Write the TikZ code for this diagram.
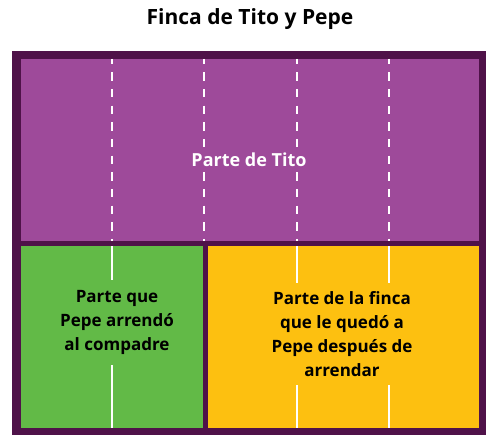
\documentclass[tikz,border=0pt]{standalone}
\usepackage{fontspec}
\setmainfont{Open Sans}
\usetikzlibrary{positioning}
\definecolor{frame}{HTML}{4F1249}
\definecolor{tito}{HTML}{9E4A9A}
\definecolor{compadre}{HTML}{62BA47}
\definecolor{pepe}{HTML}{FDC010}
\tikzset{
  plotlabel/.style={font=\fontsize{17}{24}\selectfont\bfseries,
                    align=center,inner sep=0pt},
  furrow/.style={draw=white,line width=2pt},
  dashfurrow/.style={furrow,dash pattern=on 8.33pt off 8.33pt,dash phase=3.33pt}
}
\begin{document}
\begin{tikzpicture}[x=1pt,y=-1pt]
  \useasboundingbox (0,0) rectangle (486,435);
  \node[font=\fontsize{21}{24}\selectfont\bfseries] (title) at (250,19) {Finca de Tito y Pepe};
  % terreno
  \fill[frame] (12,51) rectangle (486,435);
  \fill[tito] (21,59) rectangle (479,241);
  \fill[compadre] (21,246) rectangle (203,428);
  \fill[pepe] (208,246) rectangle (479,428);
  % surcos
  \foreach \x in {112,204,297,389}
    \draw[dashfurrow] (\x,59) -- (\x,241);
  \foreach \x in {112,297,389}
    \draw[furrow] (\x,246) -- (\x,428);
  % rotulos
  \node[plotlabel,font=\fontsize{18}{24}\selectfont\bfseries,fill=tito,text=white,
        minimum height=25pt] (partetito) at (249,159.5) {Parte de Tito};
  \node[plotlabel,fill=compadre,minimum height=85pt] (partecompadre) at (117,322.5)
    {Parte que\\Pepe arrendó\\al compadre};
  \node[plotlabel,fill=pepe,minimum height=102pt] (partepepe) at (342,334)
    {Parte de la finca\\que le quedó a\\Pepe después de\\arrendar};
\end{tikzpicture}
\end{document}
